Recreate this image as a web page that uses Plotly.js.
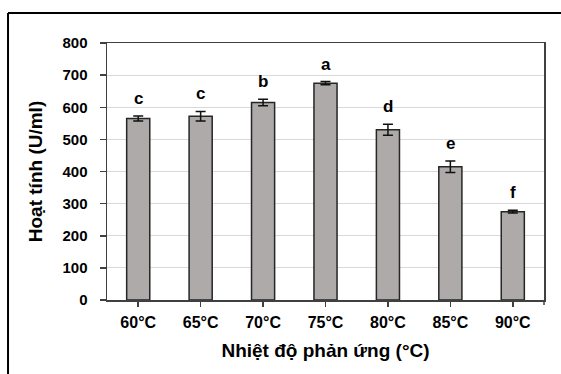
<!DOCTYPE html>
<html>
<head>
<meta charset="utf-8">
<script src="https://cdn.plot.ly/plotly-3.0.1.min.js"></script>
<style>
html,body{margin:0;padding:0;background:#fff;}
#chart{width:561px;height:374px;}
</style>
</head>
<body>
<div id="chart"></div>
<script>
const categories = ["60°C", "65°C", "70°C", "75°C", "80°C", "85°C", "90°C"];
const activity = [565, 572, 615, 675, 530, 415, 275];
const errors = [8, 15, 10, 5, 17, 18, 4];
const groupLetters = ["c", "c", "b", "a", "d", "e", "f"];
const yTicks = [0, 100, 200, 300, 400, 500, 600, 700, 800];

const FONT = "Liberation Sans, Arial, sans-serif";

const trace = {
  type: "bar",
  x: categories,
  y: activity,
  marker: {color: "#adaaa9", line: {color: "#262626", width: 1.5}},
  error_y: {type: "data", array: errors, visible: true, color: "#111", thickness: 1.5, width: 5},
  hoverinfo: "x+y"
};

const annotations = categories.map((c, i) => ({
  x: c, y: activity[i] + errors[i], xref: "x", yref: "y",
  text: groupLetters[i], showarrow: false, yanchor: "bottom", yshift: 6,
  font: {family: FONT, size: 17, color: "#000", weight: 700}
}));

const layout = {
  width: 561, height: 374,
  margin: {l: 107, r: 17, t: 43, b: 74},
  paper_bgcolor: "#fff", plot_bgcolor: "#fff",
  bargap: 0.63,
  showlegend: false,
  font: {family: FONT, color: "#000"},
  xaxis: {
    type: "category",
    showline: true, linecolor: "#404040", linewidth: 1.5, mirror: true,
    ticks: "outside", ticklen: 5, tickcolor: "#404040", tickwidth: 1.5,
    ticklabelstandoff: 2,
    tickfont: {family: FONT, size: 16, color: "#000", weight: 700},
    showgrid: false,
    title: {text: "Nhiệt độ phản ứng (°C)", font: {family: FONT, size: 19, color: "#000", weight: 700}, standoff: 14}
  },
  yaxis: {
    range: [0, 800],
    tickvals: yTicks,
    showline: true, linecolor: "#404040", linewidth: 1.5, mirror: true,
    ticks: "outside", ticklen: 6, tickcolor: "#404040", tickwidth: 1.5,
    ticklabelstandoff: 9,
    tickfont: {family: FONT, size: 15, color: "#000", weight: 700},
    showgrid: true, gridcolor: "#d9d9d9", gridwidth: 1,
    zeroline: false,
    title: {text: "Hoạt tính (U/ml)", font: {family: FONT, size: 19, color: "#000", weight: 700}, standoff: 15}
  },
  annotations: annotations,
  shapes: [
    {type: "line", xref: "paper", yref: "paper", x0: -0.2265, x1: -0.2265, y0: -0.35, y1: 1.1167,
     line: {color: "#000", width: 2}},
    {type: "line", xref: "paper", yref: "paper", x0: -0.2265, x1: 1.1, y0: 1.1167, y1: 1.1167,
     line: {color: "#000", width: 2}},
    {type: "line", xref: "paper", yref: "paper", x0: 1, x1: 1, y0: 0, y1: -0.0195,
     line: {color: "#404040", width: 1.5}}
  ]
};

Plotly.newPlot("chart", [trace], layout, {displayModeBar: false, staticPlot: true});
</script>
</body>
</html>
